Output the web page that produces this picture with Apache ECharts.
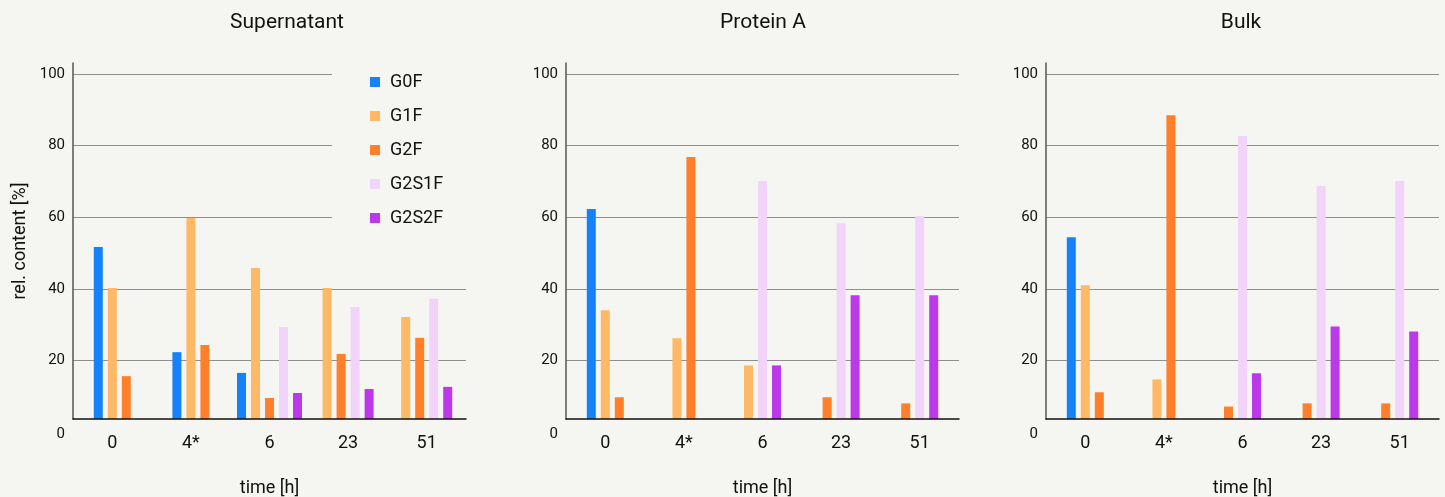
<!DOCTYPE html>
<html>
<head>
<meta charset="utf-8">
<script src="https://cdn.jsdelivr.net/npm/echarts@6/dist/echarts.min.js"></script>
<style>
  html, body { margin: 0; padding: 0; background: #f5f5f1; }
  #chart { width: 1445px; height: 497px; }
</style>
</head>
<body>
<div id="chart"></div>
<script>
// time points and glycan species
const categories = ['0', '4*', '6', '23', '51']
const glycans = ['G0F', 'G1F', 'G2F', 'G2S1F', 'G2S2F']
const panelTitles = ['Supernatant', 'Protein A', 'Bulk']
const yTicks = [20, 40, 60, 80, 100]

// rel. content [%] per glycan (rows) and time point (cols), null = not detected
const supernatant = [
  [51.7, 22.3, 16.5, null, null],
  [40.2, 59.8, 45.8, 40.2, 32.1],
  [15.6, 24.3, 9.5, 21.8, 26.3],
  [null, null, 29.3, 34.9, 37.2],
  [null, null, 10.9, 12.0, 12.6],
]
const proteinA = [
  [62.3, null, null, null, null],
  [34.0, 26.2, 18.6, null, null],
  [9.7, 76.8, null, 9.7, 8.0],
  [null, null, 70.1, 58.3, 60.3],
  [null, null, 18.6, 38.2, 38.2],
]
const bulk = [
  [54.4, null, null, null, null],
  [41.0, 14.7, null, null, null],
  [11.1, 88.5, 7.1, 8.0, 8.0],
  [null, null, 82.7, 68.7, 70.1],
  [null, null, 16.4, 29.5, 28.1],
]
const panels = [supernatant, proteinA, bulk]

const colors = ['#1682fa', '#ffb966', '#ff7f2a', '#f2d4fa', '#bd38eb']
const BG = '#f5f5f1'
const FONT = 'Roboto'
// value at which the x axis line sits (bars are cut there) and axis top
const BASE = 3.63
const TOP = 103.07
const BAR_W = 9
const BAR_STEP = 14

const grids = [
  { left: 73, width: 393, top: 63, bottom: 78, outerBoundsMode: 'none' },
  { left: 566, width: 393, top: 63, bottom: 78, outerBoundsMode: 'none' },
  { left: 1046, width: 393, top: 63, bottom: 78, outerBoundsMode: 'none' },
]
const titleX = [287, 763, 1241]

const chart = echarts.init(document.getElementById('chart'), null, { renderer: 'canvas' })

// bars of one time point are packed and centred on the tick, skipping missing glycans
const makeRender = (pi, gi) => (params, api) => {
  const i = api.value(0)
  const v = api.value(1)
  const rows = panels[pi]
  const present = []
  rows.forEach((row, k) => {
    if (row[i] != null) present.push(k)
  })
  const k = present.indexOf(gi)
  const n = present.length
  const top = api.coord([i, v])
  const base = api.coord([i, BASE])
  const cx = top[0] + (k - (n - 1) / 2) * BAR_STEP
  return {
    type: 'rect',
    shape: { x: cx - BAR_W / 2, y: top[1], width: BAR_W, height: base[1] - top[1] },
    style: { fill: colors[gi] },
  }
}

const series = []
panels.forEach((rows, pi) => {
  rows.forEach((row, gi) => {
    const data = []
    row.forEach((v, i) => {
      if (v != null) data.push([i, v])
    })
    series.push({
      type: 'custom',
      name: glycans[gi],
      xAxisIndex: pi,
      yAxisIndex: pi,
      itemStyle: { color: colors[gi] },
      encode: { x: 0, y: 1 },
      renderItem: makeRender(pi, gi),
      data,
    })
  })
})

chart.setOption({
  backgroundColor: BG,
  animation: false,
  textStyle: { fontFamily: FONT },
  title: panelTitles.map((t, i) => ({
    text: t,
    left: titleX[i],
    top: 12,
    padding: 0,
    textAlign: 'center',
    textStyle: { fontFamily: FONT, fontSize: 21, fontWeight: 'normal', color: '#111' },
  })),
  legend: {
    orient: 'vertical',
    left: 332,
    top: 63,
    padding: [10, 30, 10, 38],
    backgroundColor: BG,
    itemWidth: 10,
    itemHeight: 10,
    itemGap: 16,
    icon: 'rect',
    data: glycans,
    textStyle: { fontFamily: FONT, fontSize: 18, lineHeight: 17, color: '#111', padding: [0, 0, 0, 5] },
    z: 10,
  },
  grid: grids,
  xAxis: grids.map((g, i) => ({
    type: 'category',
    gridIndex: i,
    data: categories,
    name: 'time [h]',
    nameLocation: 'middle',
    nameGap: 60,
    nameTextStyle: { fontFamily: FONT, fontSize: 18, color: '#111' },
    axisLine: { show: true, onZero: false, lineStyle: { color: '#111', width: 1.5 } },
    axisTick: { show: false },
    axisLabel: { fontFamily: FONT, fontSize: 18, color: '#111', margin: 15 },
    splitLine: { show: false },
    z: 5,
  })),
  yAxis: grids.map((g, i) => ({
    type: 'value',
    gridIndex: i,
    min: BASE,
    max: TOP,
    name: i === 0 ? 'rel. content [%]' : '',
    nameLocation: 'middle',
    nameRotate: 90,
    nameGap: 44,
    nameTextStyle: { fontFamily: FONT, fontSize: 18, color: '#111' },
    axisLine: { show: true, lineStyle: { color: '#555', width: 1.5 } },
    axisTick: { show: false, customValues: yTicks },
    axisLabel: {
      customValues: [BASE].concat(yTicks),
      fontFamily: FONT,
      fontSize: 15,
      color: '#111',
      margin: 8,
      formatter: (v) => (Math.abs(v - BASE) < 0.01 ? '{z|0}' : String(v)),
      rich: { z: { fontFamily: FONT, fontSize: 15, color: '#111', padding: [30, 0, 0, 0] } },
    },
    splitLine: { show: true, lineStyle: { color: '#8f8f8f', width: 1.2 } },
  })),
  series,
})

window.addEventListener('resize', () => {
  chart.resize()
})
</script>
</body>
</html>
